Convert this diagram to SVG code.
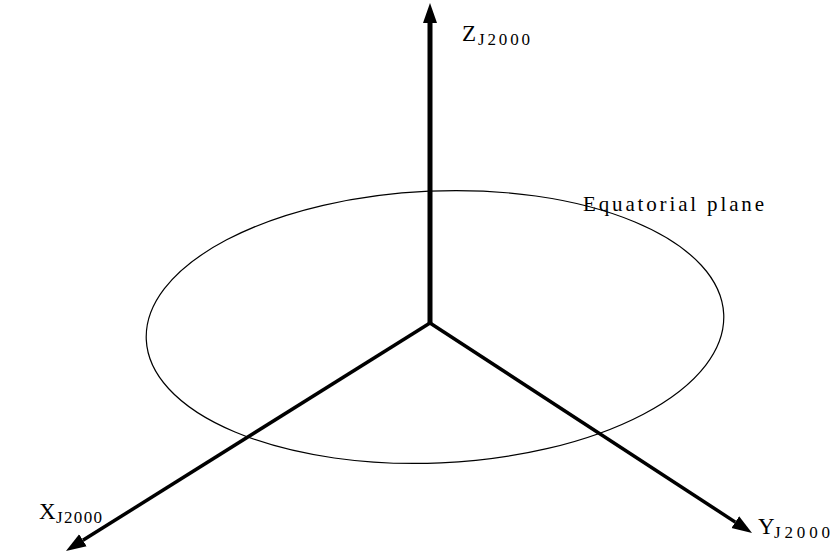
<svg xmlns="http://www.w3.org/2000/svg" width="833" height="558" viewBox="0 0 833 558">
  <style>
    .axis { stroke: #000; fill: none; }
    .lbl { font-family: "Liberation Serif", "Times New Roman", serif; fill: #000; }
    .big { font-size: 23px; }
    .sub { font-size: 17px; }
    .plane { stroke: #000; stroke-width: 1.2; fill: none; }
  </style>
  <defs>
    <marker id="arrow" markerUnits="userSpaceOnUse" markerWidth="22" markerHeight="16" viewBox="0 -8 22 16" refX="0" refY="0" orient="auto">
      <path d="M0,-7 L20,0 L0,7 z" fill="#000"/>
    </marker>
  </defs>
  <rect width="833" height="558" fill="#fff"/>
  <g id="plane">
    <ellipse class="plane" cx="435" cy="327" rx="289" ry="136" transform="rotate(-2.5 435 327)"/>
    <text class="lbl" x="583" y="211" font-size="21" textLength="181" lengthAdjust="spacing">Equatorial plane</text>
  </g>
  <g id="connectors">
    <line class="axis" x1="430" y1="323" x2="430" y2="23" stroke-width="5" marker-end="url(#arrow)"/>
    <line class="axis" x1="430" y1="323" x2="82.9" y2="540.3" stroke-width="3.5" marker-end="url(#arrow)"/>
    <line class="axis" x1="430" y1="323" x2="735.3" y2="522.1" stroke-width="3.5" marker-end="url(#arrow)"/>
  </g>
  <g id="z-label">
    <text class="lbl big" x="462" y="41">Z</text>
    <text class="lbl sub" x="478" y="45" textLength="52" lengthAdjust="spacing">J2000</text>
  </g>
  <g id="x-label">
    <text class="lbl big" x="39" y="519">X</text>
    <text class="lbl sub" x="56" y="523" textLength="46" lengthAdjust="spacing">J2000</text>
  </g>
  <g id="y-label">
    <text class="lbl big" x="758" y="534">Y</text>
    <text class="lbl sub" x="774" y="538" textLength="56" lengthAdjust="spacing">J2000</text>
  </g>
</svg>
